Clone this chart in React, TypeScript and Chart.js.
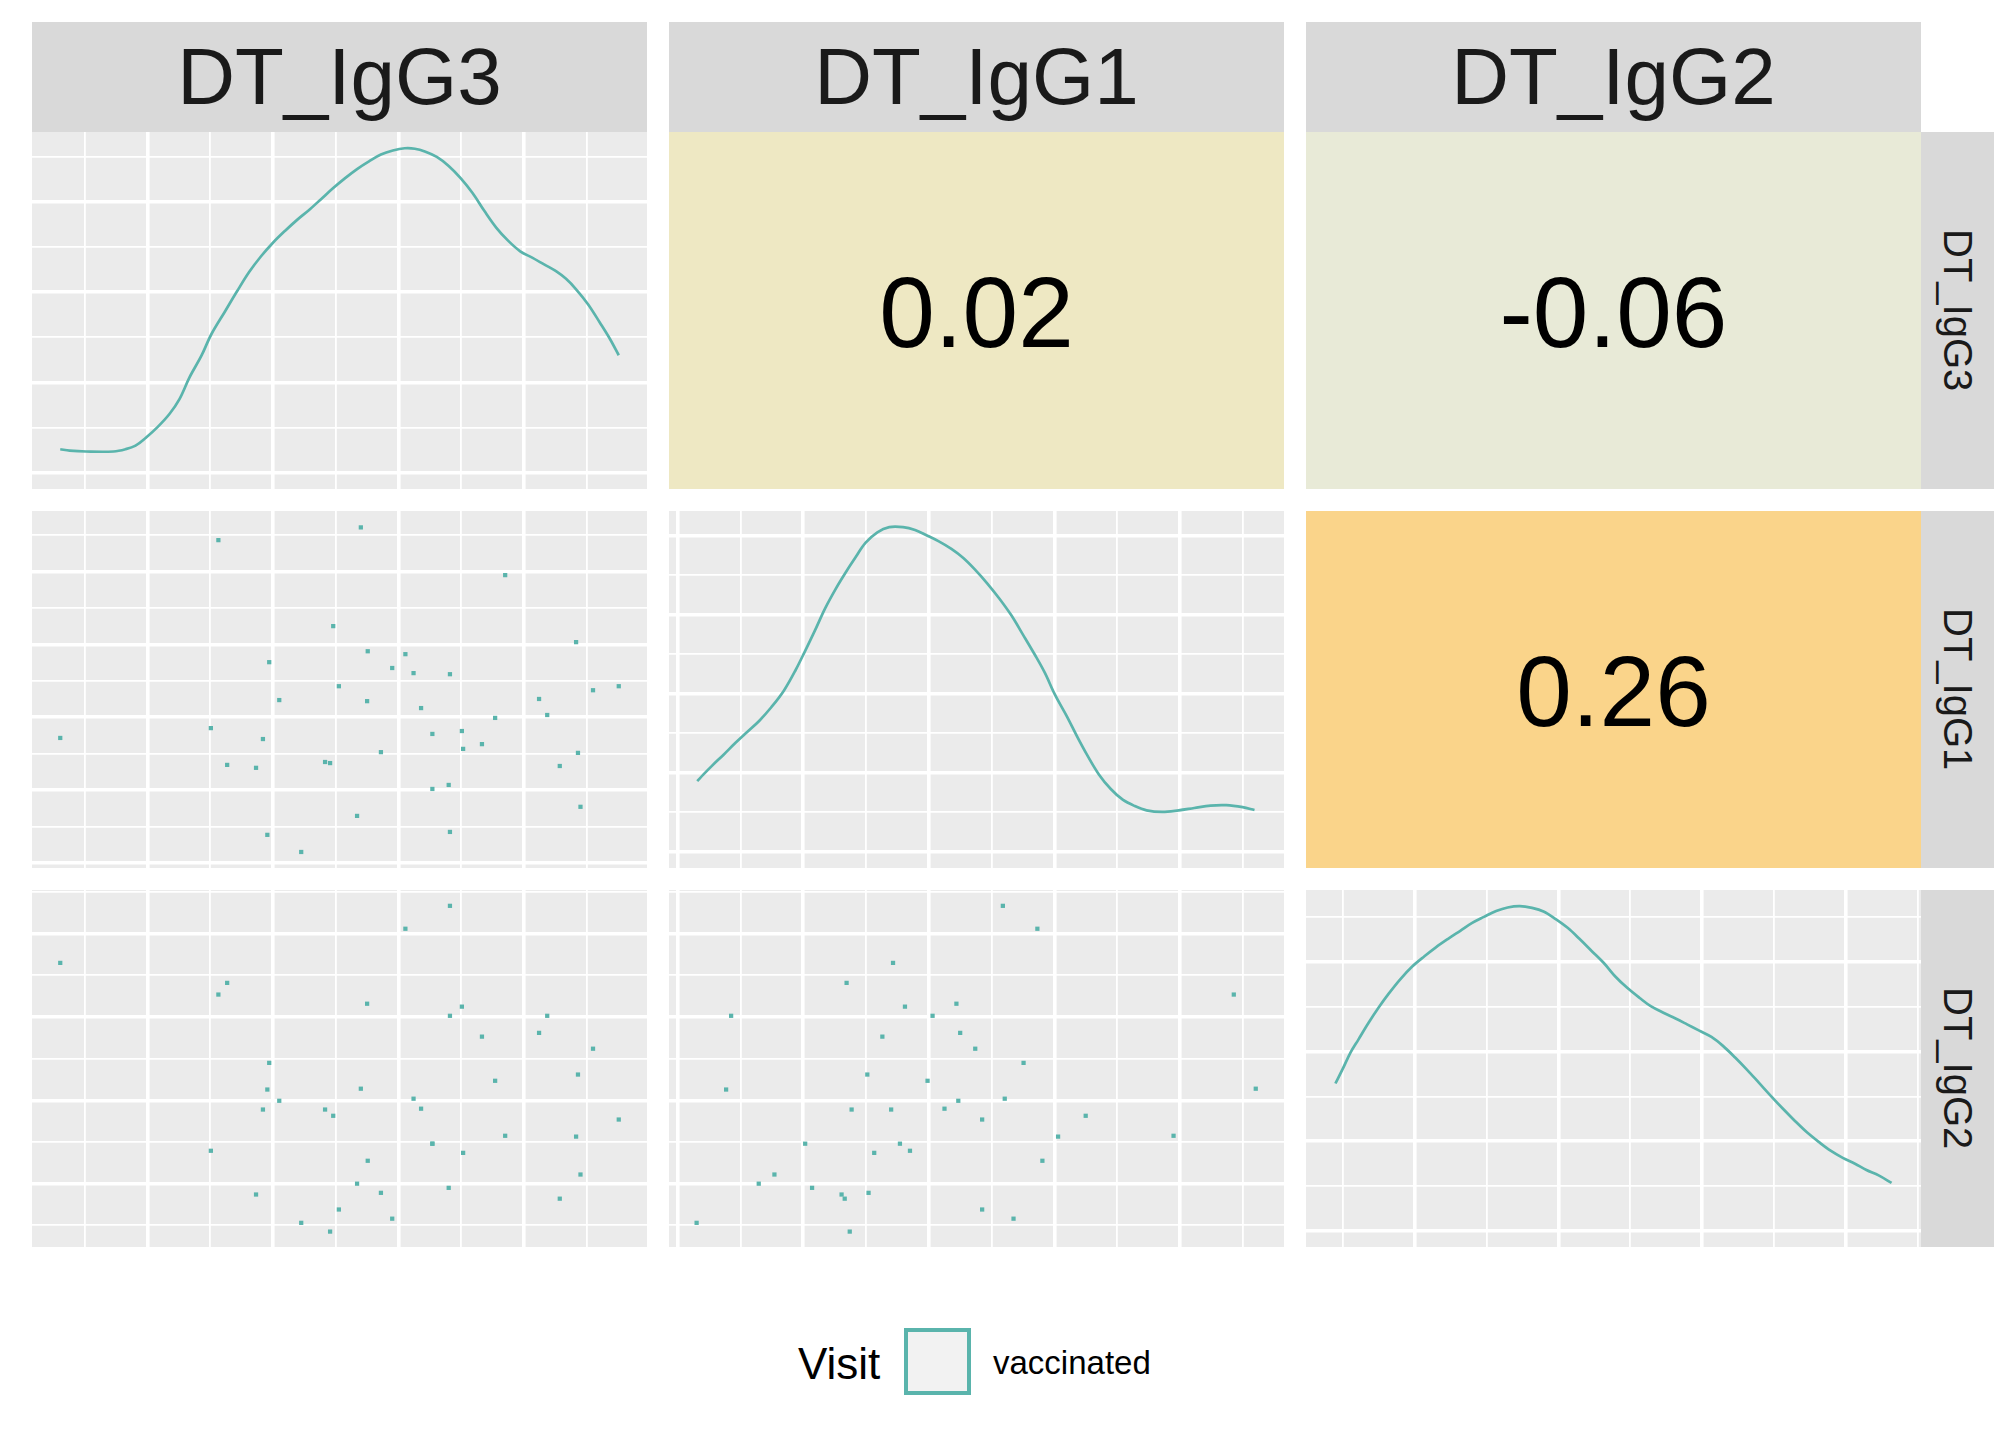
import { useEffect, useRef } from "react";
import { Chart, registerables } from "chart.js";

Chart.register(...registerables);

// variable names (strip labels)
const variables = ["DT_IgG3", "DT_IgG1", "DT_IgG2"];

const igg3 = [
  -0.39, 2.01, 2.13, 2.27, 2.73, 2.84, 2.91, 2.94, 3.1, 3.45, 3.83, 3.91, 3.96, 4.05,
  4.34, 4.4, 4.5, 4.51, 4.72, 4.9, 5.11, 5.24, 5.36, 5.54, 5.54, 5.8, 5.82, 5.82, 6.01,
  6.03, 6.33, 6.54, 6.7, 7.24, 7.37, 7.57, 7.83, 7.86, 7.9, 8.1, 8.51,
];
const igg1 = [
  3.43, 3.7, 8.86, 2.69, 2.61, 3.4, 0.77, 5.51, 4.47, 0.3, 2.77, 2.74, 6.5, 4.85,
  1.29, 9.21, 4.44, 5.81, 3.04, 5.35, 5.73, 5.21, 4.25, 3.54, 2.03, 2.14, 5.18, 0.85, 3.62,
  3.13, 3.26, 3.98, 7.9, 4.5, 4.06, 2.66, 6.06, 3.02, 1.54, 4.74, 4.85,
];
const igg2 = [
  6.3, 1.79, 5.54, 5.82, 0.74, 2.78, 3.26, 3.9, 2.99, 0.06, 2.78, -0.15, 2.63, 0.38,
  1.0, 3.28, 5.32, 1.55, 0.78, 0.16, 7.12, 3.04, 2.8, 1.96, 1.96, 0.9, 7.67, 5.03, 5.25,
  1.74, 4.53, 3.47, 2.15, 4.62, 5.03, 0.64, 2.13, 3.62, 1.22, 4.24, 2.54,
];

// density curves on the diagonal
const densIgG3X = [
  -0.39, -0.24, 0.02, 0.46, 0.65, 0.81, 0.97, 1.16, 1.35, 1.51, 1.67, 1.86, 2.02, 2.24,
  2.43, 2.62, 2.81, 3.0, 3.19, 3.38, 3.58, 3.77, 3.96, 4.15, 4.34, 4.53, 4.72, 4.91, 5.1,
  5.26, 5.42, 5.61, 5.8, 5.99, 6.18, 6.37, 6.56, 6.75, 6.94, 7.13, 7.32, 7.51, 7.67, 7.83,
  8.02, 8.21, 8.37, 8.51,
];
const densIgG3Y = [
  0.52, 0.49, 0.47, 0.47, 0.52, 0.6, 0.77, 1.01, 1.3, 1.63, 2.11, 2.59, 3.07, 3.58, 4.02,
  4.44, 4.79, 5.09, 5.35, 5.59, 5.82, 6.06, 6.3, 6.52, 6.72, 6.89, 7.04, 7.13, 7.18, 7.17,
  7.11, 6.99, 6.79, 6.52, 6.19, 5.79, 5.42, 5.13, 4.9, 4.76, 4.61, 4.46, 4.29, 4.06, 3.73,
  3.32, 2.96, 2.6,
];
const densIgG1X = [
  0.31, 0.41, 0.54, 0.73, 0.92, 1.11, 1.3, 1.49, 1.69, 1.88, 2.03, 2.19, 2.35, 2.51, 2.67,
  2.83, 2.99, 3.18, 3.37, 3.59, 3.78, 3.97, 4.16, 4.36, 4.55, 4.74, 4.93, 5.12, 5.31, 5.5,
  5.69, 5.85, 6.01, 6.2, 6.36, 6.52, 6.71, 6.9, 7.09, 7.28, 7.47, 7.72, 7.98, 8.23, 8.49,
  8.74, 9.0, 9.19,
];
const densIgG1Y = [
  1.79, 1.96, 2.17, 2.46, 2.76, 3.04, 3.32, 3.66, 4.08, 4.61, 5.09, 5.62, 6.17, 6.64, 7.06,
  7.45, 7.82, 8.09, 8.22, 8.22, 8.15, 8.01, 7.86, 7.67, 7.44, 7.14, 6.8, 6.42, 6.0, 5.5,
  4.99, 4.53, 3.98, 3.43, 2.93, 2.46, 1.96, 1.59, 1.32, 1.16, 1.05, 1.01, 1.05, 1.11, 1.17,
  1.18, 1.13, 1.06,
];
const densIgG2X = [
  -0.11, -0.01, 0.1, 0.21, 0.35, 0.49, 0.63, 0.79, 0.96, 1.13, 1.29, 1.46, 1.63, 1.79,
  1.96, 2.13, 2.29, 2.46, 2.63, 2.79, 2.96, 3.13, 3.29, 3.46, 3.63, 3.79, 3.96, 4.13, 4.29,
  4.46, 4.63, 4.79, 4.96, 5.13, 5.29, 5.46, 5.63, 5.79, 5.96, 6.13, 6.29, 6.46, 6.63, 6.79,
  6.96, 7.13, 7.29, 7.46, 7.64,
];
const densIgG2Y = [
  3.29, 3.61, 3.98, 4.27, 4.64, 4.98, 5.29, 5.61, 5.9, 6.13, 6.33, 6.52, 6.7, 6.87, 7.01,
  7.14, 7.22, 7.25, 7.21, 7.13, 6.96, 6.76, 6.52, 6.25, 5.98, 5.68, 5.42, 5.2, 5.01, 4.87,
  4.74, 4.61, 4.47, 4.33, 4.13, 3.87, 3.59, 3.31, 3.01, 2.72, 2.46, 2.2, 1.98, 1.79, 1.63,
  1.5, 1.36, 1.24, 1.07,
];

// correlations: [IgG3 vs IgG1, IgG3 vs IgG2, IgG1 vs IgG2]
const corrValues = [0.02, -0.06, 0.26];

const legendTitle = "Visit";
const legendLabel = "vaccinated";

// styling / layout
const TEAL = "#5AB4AC";
const PANEL_BG = "#EBEBEB";
const STRIP_BG = "#D9D9D9";
const CORR_BG = ["#EEE8C3", "#E8EAD7", "#FAD48A"];
const FONT = "'Liberation Sans', Arial, sans-serif";

const PANEL_W = 615;
const PANEL_H = 357;
const GAP = 22;
const LEFT = 32;
const TOP = 132;
const colX = (i: number) => LEFT + i * (PANEL_W + GAP);
const rowY = (i: number) => TOP + i * (PANEL_H + GAP);

// axis limits per variable, and which gridlines are the thick (major) ones
const varRange: [number, number][] = [
  [-0.84, 8.96],
  [-0.14, 9.66],
  [-0.52, 8.05],
];
const varMajorOdd = [true, false, true];
const densRange: [number, number][] = [
  [-0.36, 7.54],
  [-0.41, 8.63],
  [-0.36, 7.61],
];

const makeAxis = (min: number, max: number, majorOdd: boolean) => ({
  type: "linear" as const,
  min,
  max,
  ticks: { display: false },
  border: { display: false },
  grid: {
    color: "#FFFFFF",
    drawTicks: false,
    tickLength: 0,
    lineWidth: (ctx: any) => {
      const v = Math.abs(Math.round(ctx.tick ? ctx.tick.value : 0));
      return (v % 2 === 1) === majorOdd ? 3.6 : 1.8;
    },
  },
  afterBuildTicks: (scale: any) => {
    const t = [];
    for (let v = Math.ceil(min); v <= Math.floor(max); v++) t.push({ value: v });
    scale.ticks = t;
  },
});

const panelBg = {
  id: "panelBg",
  beforeDraw: (chart: any) => {
    const { ctx, chartArea } = chart;
    ctx.save();
    ctx.fillStyle = PANEL_BG;
    ctx.fillRect(chartArea.left, chartArea.top, chartArea.width, chartArea.height);
    ctx.restore();
  },
};

const baseOptions = {
  responsive: false,
  maintainAspectRatio: false,
  animation: false as const,
  events: [],
  layout: { padding: 0, autoPadding: false },
  plugins: { legend: { display: false }, tooltip: { enabled: false } },
};

const scatterConfig = (xs: number[], ys: number[], xi: number, yi: number) => () => ({
  type: "scatter" as const,
  data: {
    datasets: [
      {
        data: xs.map((x, i) => ({ x, y: ys[i] })),
        pointStyle: "rect",
        pointRadius: 3,
        pointBorderWidth: 0,
        pointBackgroundColor: TEAL,
      },
    ],
  },
  options: {
    ...baseOptions,
    scales: {
      x: makeAxis(varRange[xi][0], varRange[xi][1], varMajorOdd[xi]),
      y: makeAxis(varRange[yi][0], varRange[yi][1], varMajorOdd[yi]),
    },
  },
  plugins: [panelBg],
});

const densityConfig = (xs: number[], ys: number[], vi: number) => () => ({
  type: "line" as const,
  data: {
    datasets: [
      {
        data: xs.map((x, i) => ({ x, y: ys[i] })),
        borderColor: TEAL,
        borderWidth: 2.7,
        pointRadius: 0,
        fill: false,
        tension: 0.35,
      },
    ],
  },
  options: {
    ...baseOptions,
    scales: {
      x: makeAxis(varRange[vi][0], varRange[vi][1], varMajorOdd[vi]),
      y: makeAxis(densRange[vi][0], densRange[vi][1], false),
    },
  },
  plugins: [panelBg],
});

const corrConfig = (k: number) => () => ({
  type: "scatter" as const,
  data: { datasets: [] },
  options: {
    ...baseOptions,
    scales: {
      x: { type: "linear" as const, min: 0, max: 1, display: false },
      y: { type: "linear" as const, min: 0, max: 1, display: false },
    },
  },
  plugins: [
    {
      id: "corrCell",
      beforeDraw: (chart: any) => {
        const { ctx, chartArea, scales } = chart;
        ctx.save();
        ctx.fillStyle = CORR_BG[k];
        ctx.fillRect(chartArea.left, chartArea.top, chartArea.width, chartArea.height);
        ctx.fillStyle = "#000000";
        ctx.font = `100px ${FONT}`;
        ctx.textAlign = "center";
        ctx.textBaseline = "middle";
        ctx.fillText(
          corrValues[k].toFixed(2),
          scales.x.getPixelForValue(0.5),
          scales.y.getPixelForValue(0.5) + 9
        );
        ctx.restore();
      },
    },
  ],
});

function ChartPanel({ left, top, config }: { left: number; top: number; config: () => any }) {
  const canvasRef = useRef<HTMLCanvasElement>(null);

  useEffect(() => {
    if (!canvasRef.current) return;
    const chart = new Chart(canvasRef.current, config());
    return () => {
      chart.destroy();
    };
  }, []);

  return (
    <div style={{ position: "absolute", left, top, width: PANEL_W, height: PANEL_H }}>
      <canvas
        ref={canvasRef}
        width={PANEL_W}
        height={PANEL_H}
        style={{ width: PANEL_W, height: PANEL_H, display: "block" }}
      />
    </div>
  );
}

const series = [igg3, igg1, igg2];
const densX = [densIgG3X, densIgG1X, densIgG2X];
const densY = [densIgG3Y, densIgG1Y, densIgG2Y];

export default function App() {
  const panels: JSX.Element[] = [];
  for (let r = 0; r < 3; r++) {
    for (let c = 0; c < 3; c++) {
      let config;
      if (r === c) config = densityConfig(densX[r], densY[r], r);
      else if (r > c) config = scatterConfig(series[c], series[r], c, r);
      else config = corrConfig(r === 0 ? c - 1 : 2);
      panels.push(<ChartPanel key={`${r}-${c}`} left={colX(c)} top={rowY(r)} config={config} />);
    }
  }

  return (
    <div
      style={{
        position: "absolute",
        left: 0,
        top: 0,
        width: 2016,
        height: 1440,
        background: "#FFFFFF",
        fontFamily: FONT,
        overflow: "hidden",
      }}
    >
      {variables.map((v, i) => (
        <div
          key={`top-${v}`}
          style={{
            position: "absolute",
            left: colX(i),
            top: 22,
            width: PANEL_W,
            height: TOP - 22,
            background: STRIP_BG,
            color: "#1A1A1A",
            fontSize: 80,
            display: "flex",
            alignItems: "center",
            justifyContent: "center",
            lineHeight: 1,
          }}
        >
          {v}
        </div>
      ))}
      {variables.map((v, i) => (
        <div
          key={`right-${v}`}
          style={{
            position: "absolute",
            left: colX(2) + PANEL_W,
            top: rowY(i),
            width: 73,
            height: PANEL_H,
            background: STRIP_BG,
            color: "#1A1A1A",
            fontSize: 40,
            writingMode: "vertical-rl",
            display: "flex",
            alignItems: "center",
            justifyContent: "center",
            lineHeight: 1,
          }}
        >
          {v}
        </div>
      ))}
      {panels}
      <div
        style={{
          position: "absolute",
          left: 798,
          top: 1342,
          fontSize: 44,
          lineHeight: 1,
          color: "#000000",
        }}
      >
        {legendTitle}
      </div>
      <div
        style={{
          position: "absolute",
          left: 904,
          top: 1328,
          width: 67,
          height: 67,
          boxSizing: "border-box",
          border: `4px solid ${TEAL}`,
          background: "#F2F2F2",
        }}
      />
      <div
        style={{
          position: "absolute",
          left: 993,
          top: 1346,
          fontSize: 33,
          lineHeight: 1,
          color: "#000000",
        }}
      >
        {legendLabel}
      </div>
    </div>
  );
}
